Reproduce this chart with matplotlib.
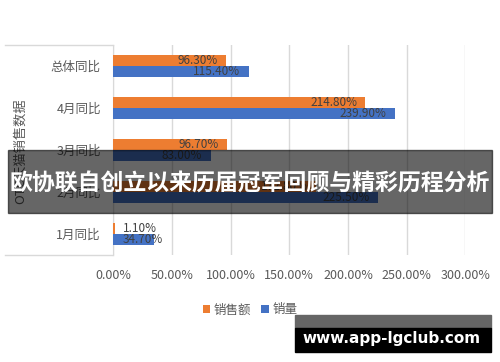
import matplotlib.pyplot as plt
import numpy as np
from matplotlib.patches import Rectangle

plt.rcParams['font.family'] = ['Noto Sans CJK SC', 'DejaVu Sans']

categories = ["总体同比", "4月同比", "3月同比", "2月同比", "1月同比"]
sales_amount = [96.30, 214.80, 96.70, 172.80, 1.10]
sales_volume = [115.40, 239.90, 83.00, 225.50, 34.70]
series_names = ["销售额", "销量"]
x_ticks = [0, 50, 100, 150, 200, 250, 300]

orange = "#ED7D31"
blue = "#4472C4"
grid_c = "#D9D9D9"
text_c = "#595959"

fig = plt.figure(figsize=(5, 3.62), dpi=100)
ax = fig.add_axes([113.3 / 500, 1 - 255 / 362, 352 / 500, 210 / 362])

y = np.arange(len(categories))
h = 0.262
b1 = ax.barh(y - h / 2, sales_amount, height=h, color=orange, zorder=3, label=series_names[0])
b2 = ax.barh(y + h / 2, sales_volume, height=h, color=blue, zorder=3, label=series_names[1])

for bars, vals in ((b1, sales_amount), (b2, sales_volume)):
    for rect, v in zip(bars, vals):
        yc = rect.get_y() + rect.get_height() / 2
        if v < 50:
            ax.annotate(f"{v:.2f}%", (0, yc), xytext=(7, 0), textcoords="offset points",
                        ha="left", va="center", fontsize=8.5, color="#404040", zorder=4)
        else:
            ax.annotate(f"{v:.2f}%", (v, yc), xytext=(-6, 0), textcoords="offset points",
                        ha="right", va="center", fontsize=8.5, color="#404040", zorder=4)

ax.set_xlim(0, 300)
ax.set_ylim(len(categories) - 0.5, -0.5)
ax.set_xticks(x_ticks)
ax.set_xticklabels([f"{t:.2f}%" for t in x_ticks])
ax.set_yticks(y)
ax.set_yticklabels(categories)
ax.tick_params(axis="both", length=0, labelsize=9, colors=text_c)
ax.tick_params(axis="y", pad=9)
ax.tick_params(axis="x", pad=10)
ax.grid(axis="x", color=grid_c, linewidth=1, zorder=0)
for s in ("top", "right", "bottom"):
    ax.spines[s].set_visible(False)
ax.spines["left"].set_color(grid_c)

# outer category frame lines on the left
x0 = (5 - 113.3) / 352
ax.plot([x0, 0], [1, 1], transform=ax.transAxes, color=grid_c, lw=1, clip_on=False)
ax.plot([x0, 0], [0, 0], transform=ax.transAxes, color=grid_c, lw=1, clip_on=False)
fig.text(20 / 500, 1 - 151 / 362, "OTC天猫销售数据", rotation=90, ha="center", va="center",
         fontsize=9.5, color=text_c)

fig.legend(handles=[b1, b2], labels=series_names, loc="center", bbox_to_anchor=(0.5, 1 - 310 / 362),
           ncol=2, frameon=False, fontsize=9, handlelength=0.6, handleheight=0.6,
           handletextpad=0.3, columnspacing=0.8, labelcolor=text_c)

# overlay banner
fig.patches.append(Rectangle((8 / 500, 1 - 213 / 362), 484 / 500, 63 / 362, transform=fig.transFigure,
                             color="black", alpha=0.6, zorder=10))
fig.text(0.5, 1 - 184 / 362, "欧协联自创立以来历届冠军回顾与精彩历程分析", ha="center", va="center",
         fontsize=16.5, fontweight="bold", color="white", zorder=11)

# watermark
fig.patches.append(Rectangle((295 / 500, 1 - 328 / 362), 196 / 500, 13 / 362, transform=fig.transFigure,
                             color="#666666", zorder=10))
fig.patches.append(Rectangle((295 / 500, 1 - 352 / 362), 196 / 500, 24 / 362, transform=fig.transFigure,
                             color="black", zorder=10))
fig.text(391.5 / 500, 1 - 338 / 362, "www.app-lgclub.com", ha="center", va="center",
         fontsize=11, fontweight="bold", color="white", family="DejaVu Sans", zorder=11)

fig.savefig("out.png", dpi=100)
